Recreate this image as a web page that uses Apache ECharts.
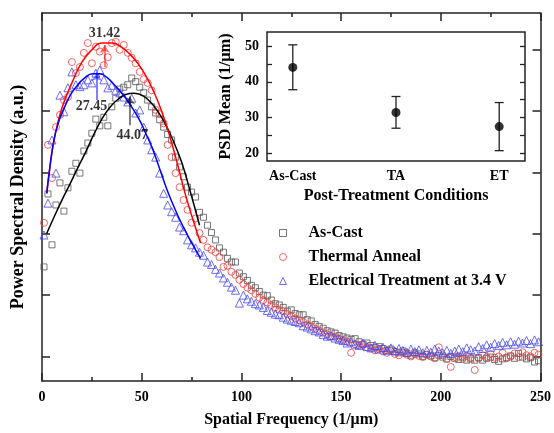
<!DOCTYPE html>
<html><head><meta charset="utf-8">
<script src="https://cdn.jsdelivr.net/npm/echarts@6/dist/echarts.min.js"></script>
<style>html,body{margin:0;padding:0;background:#fff}#c{width:554px;height:433px}</style>
</head><body><div id="c"></div>
<script>
const FONT = "'Times New Roman','Liberation Serif',serif";

// Spatial frequency (1/um)
const freq = [1,3,5,7,9,11,13,15,17,19,21,23,25,27,29,31,33,35,37,39,41,43,45,47,49,51,53,55,57,59,61,63,65,67,69,71,73,75,77,79,81,83,85,87,89,91,93,95,97,99,101,103,105,107,109,111,113,115,117,119,121,123,125,127,129,131,133,135,137,139,141,143,145,147,149,151,153,155,157,159,161,163,165,167,169,171,173,175,177,179,181,183,185,187,189,191,193,195,197,199,201,203,205,207,209,211,213,215,217,219,221,223,225,227,229,231,233,235,237,239,241,243,245,247,249];

// PSD (a.u.)
const asCast = [18.6,30.5,22.2,28.7,32.3,27.7,31.5,34.2,35.5,33.9,37.5,38.8,40.4,42.7,41.6,43.0,41.6,44.7,46.1,47.6,47.9,48.3,49.4,48.8,47.9,47.0,45.8,44.7,43.7,42.6,41.4,40.2,39.3,36.5,34.9,33.3,31.6,30.8,30.0,27.5,26.7,25.4,24.2,23.0,21.7,21.0,20.0,19.4,19.4,17.6,17.0,16.4,15.6,15.2,14.6,14.0,13.9,13.2,12.6,12.4,12.0,11.4,11.6,11.0,10.8,10.8,10.0,9.8,9.2,8.9,8.6,8.2,8.0,7.8,7.4,7.2,7.0,6.8,6.9,6.4,6.0,6.2,5.8,5.5,5.6,5.3,5.0,5.2,4.8,4.6,4.9,4.5,4.2,4.6,4.4,4.0,4.3,4.1,3.8,4.2,3.9,3.6,4.0,3.7,3.5,3.9,3.4,3.6,3.4,3.8,3.4,3.7,3.9,3.5,3.2,3.6,3.8,4.1,3.7,4.5,3.9,3.6,3.8,3.1,3.3];
const thermal = [25.8,38.5,33.1,41.4,43.4,45.8,46.3,52.0,50.2,51.2,53.5,55.1,51.8,54.5,53.7,51.5,52.8,55.1,55.3,54.0,54.8,53.5,52.7,51.8,50.4,49.2,48.6,47.4,44.2,43.5,42.0,38.5,36.5,33.9,31.6,29.5,27.9,25.8,26.5,24.1,23.0,21.8,21.4,21.0,20.2,18.6,18.8,17.8,17.3,16.5,15.8,15.2,14.8,14.2,13.6,13.2,12.8,12.4,12.0,11.6,11.4,10.9,10.6,10.2,9.9,9.6,9.2,8.9,8.5,8.2,7.9,7.6,7.3,7.2,6.9,6.7,6.4,4.6,6.0,5.8,5.9,5.5,5.3,5.0,5.2,4.8,4.6,4.9,4.4,4.2,4.6,4.3,4.0,4.4,4.1,3.9,4.3,4.0,3.7,5.5,4.2,3.6,2.3,3.9,4.0,3.6,4.1,3.8,1.8,3.7,4.2,3.9,4.4,3.8,4.0,4.6,3.7,4.0,4.5,3.9,4.7,4.2,4.0,4.6,4.3];
const electrical = [23.8,29.0,39.3,33.9,46.6,43.9,47.8,50.4,48.3,48.0,48.3,49.1,48.6,50.2,50.7,49.1,47.8,48.2,47.4,47.0,46.3,45.5,46.1,43.7,44.2,41.4,39.3,37.7,36.5,33.9,30.6,28.7,27.6,26.7,25.1,24.5,23.0,22.2,21.7,21.0,20.5,19.4,19.0,18.2,17.6,16.8,16.1,15.3,14.8,12.7,14.0,13.4,13.0,12.6,12.4,12.0,11.5,11.2,10.9,10.8,10.4,10.1,9.9,9.7,9.5,9.0,8.8,8.5,8.2,8.0,7.6,7.3,7.4,7.0,6.8,6.6,6.2,6.4,6.0,5.8,6.2,5.6,5.4,5.8,5.2,5.5,5.0,5.4,4.9,5.3,5.0,4.7,5.2,4.8,5.1,4.6,5.0,4.7,5.2,4.9,4.6,5.0,4.5,4.9,5.2,4.8,5.4,5.1,4.9,5.6,5.3,5.9,5.5,6.1,5.8,6.3,5.9,6.4,6.0,6.5,6.2,6.6,6.1,6.7,6.4];

// Fitted curves
const fitAsCastX = [2.3,6,10,14,18,22,26,30,34,38,42,46,50,54,58,62,66,70,74,79];
const fitAsCastY = [24,26.7,29.5,32.1,34.8,37.4,40.2,42.7,44.6,45.9,46.7,46.9,46.6,45.6,44,41.8,39,35.7,31.3,25.4];
const fitThermalX = [2.4,4,6,8,10.5,15,20,25,30,35,40,44,48,52,56,60,64,68,72,76,79.5];
const fitThermalY = [30.6,35,39.2,42.2,45,48.6,52,54,55.1,55.1,54.4,53.3,51.8,49.8,47.2,44,40,35.3,30.3,26,22.5];
const fitElecX = [2.4,4,6,8,10.5,14,17.5,21,25.5,29,32.5,36,39,42,45.5,49,52,55.5,58.7,62,65,68.5,72,76,79.5];
const fitElecY = [30.6,35,39.3,41.9,44,46.5,48.1,49.3,50.1,50.1,49.5,48.4,47.3,46.1,44.4,42.5,40.4,37.8,34.9,31.8,29.3,26.7,24.4,22,20];

// Peak annotations
const peakX = [44.07, 31.42, 27.45];
const arrowFrom = [41.7, 51.2, 45.8];
const arrowTo = [46.4, 54.8, 50.2];
const peakLabelX = [45.3, 31.3, 24.8];
const peakLabelY = [40.0, 56.6, 44.8];
const peakColors = ['#000000', '#ff0000', '#0000ff'];

// Inset
const insetCats = ['As-Cast', 'TA', 'ET'];
const insetMean = [44.07, 31.42, 27.45];
const insetLow = [37.8, 27.0, 20.7];
const insetHigh = [50.4, 35.9, 34.2];
const insetYLabels = [20, 30, 40, 50];
const insetYTicks = [20, 25, 30, 35, 40, 45, 50];
const mainYTicks = [4, 14, 24, 34, 44, 54];

const AX = '#222';
const txt = (size) => ({fontFamily: FONT, fontWeight: 'bold', fontSize: size, color: '#000'});
const zip = (a, b) => a.map((v, i) => [v, b[i]]);
const line = {onZero: false, lineStyle: {color: AX, width: 1.5}};

const chart = echarts.init(document.getElementById('c'));
chart.setOption({
  animation: false,
  backgroundColor: '#fff',
  grid: [
    {left: 42, top: 13, right: 10, bottom: 52},
    {left: 267, top: 32, width: 258, height: 129, show: true, backgroundColor: '#fff', borderColor: AX, borderWidth: 1.5, z: 10}
  ],
  legend: {
    data: ['As-Cast', 'Thermal Anneal', 'Electrical Treatment at 3.4 V'],
    orient: 'vertical', left: 274, top: 220,
    itemWidth: 7, itemHeight: 7, itemGap: 8,
    itemStyle: {borderWidth: 1},
    textStyle: Object.assign({padding: [0, 0, 0, 17]}, txt(16))
  },
  xAxis: [
    {type: 'value', gridIndex: 0, min: 0, max: 250, interval: 50, position: 'bottom',
     axisLine: line,
     axisTick: {inside: true, length: 8, lineStyle: {color: AX, width: 1.5}},
     minorTick: {show: true, splitNumber: 2, length: 4, lineStyle: {color: AX, width: 1.5}},
     splitLine: {show: false},
     axisLabel: Object.assign({margin: 9}, txt(14)),
     name: 'Spatial Frequency (1/\u03bcm)', nameLocation: 'middle', nameGap: 31, nameTextStyle: txt(16)},
    {type: 'value', gridIndex: 0, min: 0, max: 250, interval: 50, position: 'top',
     axisLine: line,
     axisTick: {inside: true, length: 8, lineStyle: {color: AX, width: 1.5}},
     minorTick: {show: true, splitNumber: 2, length: 4, lineStyle: {color: AX, width: 1.5}},
     splitLine: {show: false}, axisLabel: {show: false}},
    {type: 'value', gridIndex: 1, min: 0.75, max: 3.25, z: 11,
     axisLine: {show: false, onZero: false}, axisTick: {show: false}, splitLine: {show: false},
     axisLabel: Object.assign({margin: 8, customValues: [1, 2, 3], formatter: v => insetCats[Math.round(v) - 1]}, txt(14)),
     name: 'Post-Treatment Conditions', nameLocation: 'middle', nameGap: 27, nameTextStyle: txt(16)}
  ],
  yAxis: [
    {type: 'value', gridIndex: 0, min: 0, max: 60, position: 'left',
     axisLine: line,
     axisTick: {inside: true, length: 8, customValues: mainYTicks, lineStyle: {color: AX, width: 1.5}},
     splitLine: {show: false}, axisLabel: {show: false},
     name: 'Power Spectral Density (a.u.)', nameLocation: 'middle', nameGap: 15, nameTextStyle: txt(18)},
    {type: 'value', gridIndex: 0, min: 0, max: 60, position: 'right',
     axisLine: line,
     axisTick: {inside: true, length: 8, customValues: mainYTicks, lineStyle: {color: AX, width: 1.5}},
     splitLine: {show: false}, axisLabel: {show: false}},
    {type: 'value', gridIndex: 1, min: 17.8, max: 54, position: 'left', z: 11,
     axisLine: {show: false, onZero: false},
     axisTick: {inside: true, length: 5, customValues: insetYTicks, lineStyle: {color: AX, width: 1.3}},
     splitLine: {show: false},
     axisLabel: Object.assign({margin: 8, customValues: insetYLabels}, txt(14)),
     name: 'PSD Mean (1/\u03bcm)', nameLocation: 'middle', nameGap: 33, nameTextStyle: txt(16.5)},
    {type: 'value', gridIndex: 1, min: 17.8, max: 54, position: 'right', z: 11,
     axisLine: {show: false, onZero: false},
     axisTick: {inside: true, length: 5, customValues: insetYTicks, lineStyle: {color: AX, width: 1.3}},
     splitLine: {show: false}, axisLabel: {show: false}}
  ],
  series: [
    {name: 'As-Cast', type: 'scatter', xAxisIndex: 0, yAxisIndex: 0, symbol: 'rect', symbolSize: 6,
     itemStyle: {color: 'rgba(0,0,0,0)', borderColor: '#555', borderWidth: 1}, data: zip(freq, asCast)},
    {name: 'Thermal Anneal', type: 'scatter', xAxisIndex: 0, yAxisIndex: 0, symbol: 'circle', symbolSize: 7,
     itemStyle: {color: 'rgba(0,0,0,0)', borderColor: '#ec4040', borderWidth: 1}, data: zip(freq, thermal)},
    {name: 'Electrical Treatment at 3.4 V', type: 'scatter', xAxisIndex: 0, yAxisIndex: 0, symbol: 'triangle', symbolSize: 8,
     itemStyle: {color: 'rgba(0,0,0,0)', borderColor: '#4848f0', borderWidth: 1}, data: zip(freq, electrical)},
    {type: 'line', xAxisIndex: 0, yAxisIndex: 0, smooth: true, showSymbol: false, symbol: 'none', z: 4,
     lineStyle: {color: '#000', width: 1.5}, data: zip(fitAsCastX, fitAsCastY)},
    {type: 'line', xAxisIndex: 0, yAxisIndex: 0, smooth: true, showSymbol: false, symbol: 'none', z: 4,
     lineStyle: {color: '#ff0000', width: 1.5}, data: zip(fitThermalX, fitThermalY)},
    {type: 'line', xAxisIndex: 0, yAxisIndex: 0, smooth: true, showSymbol: false, symbol: 'none', z: 4,
     lineStyle: {color: '#0000ff', width: 1.5}, data: zip(fitElecX, fitElecY)},
    {type: 'lines', coordinateSystem: 'cartesian2d', xAxisIndex: 0, yAxisIndex: 0, z: 5,
     symbol: ['none', 'arrow'], symbolSize: 8,
     data: peakX.map((x, i) => ({coords: [[x, arrowFrom[i]], [x, arrowTo[i]]], lineStyle: {color: peakColors[i], width: 2}}))},
    {type: 'scatter', xAxisIndex: 0, yAxisIndex: 0, symbolSize: 1, z: 6,
     itemStyle: {color: 'rgba(0,0,0,0)'},
     label: Object.assign({show: true, position: 'inside'}, txt(14)),
     data: peakX.map((x, i) => ({value: [peakLabelX[i], peakLabelY[i]], label: {formatter: x.toFixed(2)}}))},
    {type: 'custom', xAxisIndex: 2, yAxisIndex: 2, z: 12,
     encode: {x: 0, y: [1, 2]},
     renderItem: function (params, api) {
       const x = api.value(0);
       const pLo = api.coord([x, api.value(1)]);
       const pHi = api.coord([x, api.value(2)]);
       const w = 4.5;
       const st = {stroke: '#222', lineWidth: 1.3};
       return {type: 'group', children: [
         {type: 'line', shape: {x1: pLo[0], y1: pLo[1], x2: pHi[0], y2: pHi[1]}, style: st},
         {type: 'line', shape: {x1: pLo[0] - w, y1: pLo[1], x2: pLo[0] + w, y2: pLo[1]}, style: st},
         {type: 'line', shape: {x1: pHi[0] - w, y1: pHi[1], x2: pHi[0] + w, y2: pHi[1]}, style: st}
       ]};
     },
     data: insetCats.map((c, i) => [i + 1, insetLow[i], insetHigh[i]])},
    {type: 'scatter', xAxisIndex: 2, yAxisIndex: 2, z: 13, symbol: 'circle', symbolSize: 9,
     itemStyle: {color: '#000'}, data: insetCats.map((c, i) => [i + 1, insetMean[i]])}
  ]
});
</script>
</body></html>
